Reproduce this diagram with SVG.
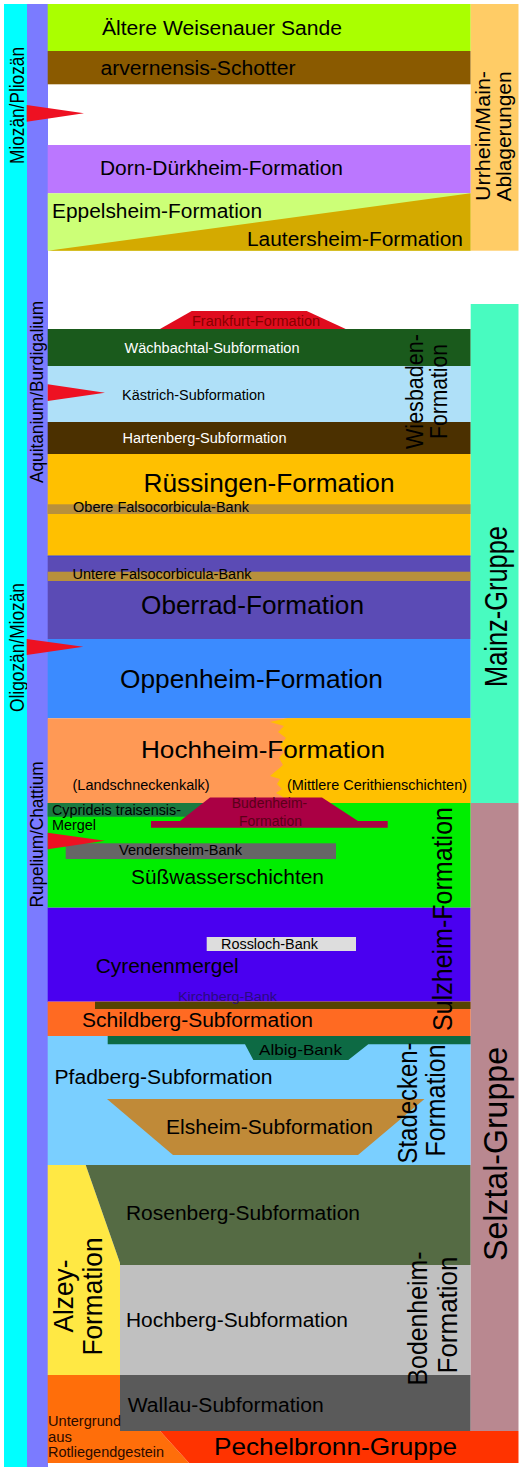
<svg xmlns="http://www.w3.org/2000/svg" width="525" height="1467" viewBox="0 0 525 1467">
<style>
text{font-family:"Liberation Sans",Arial,sans-serif;fill:#000}
.s{font-size:14px}
.m{font-size:19.5px}
.b{font-size:25px}
.w{fill:#fff}
.v{text-anchor:middle}
</style>
<rect width="525" height="1467" fill="#fff"/>
<g id="epoch-bar">
<rect x="4" y="4" width="23" height="1463" fill="#00ffff"/>
<text class="v" font-size="19.5" transform="translate(24,105.5) rotate(-90)" textLength="117" lengthAdjust="spacingAndGlyphs">Miozän/Pliozän</text>
<text class="v" font-size="19.5" transform="translate(24,647.5) rotate(-90)" textLength="129" lengthAdjust="spacingAndGlyphs">Oligozän/Miozän</text>
</g>
<g id="stage-bar">
<rect x="27" y="4" width="21" height="1463" fill="#7b7bff"/>
<text class="v" font-size="18.5" transform="translate(43,392) rotate(-90)" textLength="182" lengthAdjust="spacingAndGlyphs">Aquitanium/Burdigalium</text>
<text class="v" font-size="18.5" transform="translate(43,834.5) rotate(-90)" textLength="146" lengthAdjust="spacingAndGlyphs">Rupelium/Chattium</text>
</g>
<g id="weisenauer"><rect x="47.7" y="4" width="423" height="47" fill="#aaff00"/><text class="m" x="102" y="35" textLength="240" lengthAdjust="spacingAndGlyphs">Ältere Weisenauer Sande</text></g>
<g id="arvernensis"><rect x="47.7" y="51" width="423" height="33.3" fill="#8a5a00"/><text class="m" x="100.5" y="75" textLength="195" lengthAdjust="spacingAndGlyphs">arvernensis-Schotter</text></g>
<g id="dorn"><rect x="47.7" y="145" width="423" height="48.3" fill="#bb77ff"/><text class="m" x="100" y="175" textLength="243" lengthAdjust="spacingAndGlyphs">Dorn-Dürkheim-Formation</text></g>
<g id="eppelsheim"><rect x="47.7" y="193.3" width="423" height="57.4" fill="#ccff77"/><text class="m" x="52" y="218" textLength="210" lengthAdjust="spacingAndGlyphs">Eppelsheim-Formation</text></g>
<g id="lautersheim"><polygon points="47.7,250.7 470.7,193.3 470.7,250.7" fill="#d4aa00"/><text class="m" x="247" y="246" textLength="216" lengthAdjust="spacingAndGlyphs">Lautersheim-Formation</text></g>
<g id="urrhein"><rect x="470.7" y="4" width="47.8" height="246.7" fill="#ffcc66"/>
<text class="v" font-size="20" transform="translate(489.5,136) rotate(-90)" textLength="130" lengthAdjust="spacingAndGlyphs">Urrhein/Main-</text>
<text class="v" font-size="20" transform="translate(510.5,136.5) rotate(-90)" textLength="130" lengthAdjust="spacingAndGlyphs">Ablagerungen</text></g>
<g id="frankfurt"><polygon points="160,329 191.7,311 306.7,311 345.7,329" fill="#e00c1e"/><text class="s" x="192" y="326" style="fill:#880000" textLength="128" lengthAdjust="spacingAndGlyphs">Frankfurt-Formation</text></g>
<g id="waechbachtal"><rect x="47.7" y="329" width="423" height="37" fill="#1a5a1c"/><text class="s w" x="124.5" y="353" textLength="175" lengthAdjust="spacingAndGlyphs">Wächbachtal-Subformation</text></g>
<g id="kaestrich"><rect x="47.7" y="366" width="423" height="56" fill="#afe0f8"/><text class="s" x="122" y="400" textLength="143" lengthAdjust="spacingAndGlyphs">Kästrich-Subformation</text></g>
<g id="hartenberg"><rect x="47.7" y="422" width="423" height="32" fill="#4b3000"/><text class="s w" x="122.5" y="443" textLength="164" lengthAdjust="spacingAndGlyphs">Hartenberg-Subformation</text></g>
<g id="wiesbaden"><text class="v" font-size="23" transform="translate(423,391.5) rotate(-90)" textLength="115" lengthAdjust="spacingAndGlyphs">Wiesbaden-</text><text class="v" font-size="23" transform="translate(447,391.5) rotate(-90)" textLength="95" lengthAdjust="spacingAndGlyphs">Formation</text></g>
<g id="ruessingen"><rect x="47.7" y="454" width="423" height="102" fill="#ffc000"/><rect x="47.7" y="504.3" width="423" height="9.7" fill="#b8903c"/>
<text x="143.5" y="492" font-size="25.5" textLength="251" lengthAdjust="spacingAndGlyphs">Rüssingen-Formation</text>
<text class="s" x="73" y="512" textLength="176" lengthAdjust="spacingAndGlyphs">Obere Falsocorbicula-Bank</text></g>
<g id="oberrad"><rect x="47.7" y="556" width="423" height="83" fill="#5b4bb5"/><line x1="47.7" y1="556" x2="470.7" y2="556" stroke="#2f45f0" stroke-width="1"/><rect x="47.7" y="571.7" width="423" height="9.3" fill="#b8903c"/>
<text class="s" x="72.5" y="579" textLength="179" lengthAdjust="spacingAndGlyphs">Untere Falsocorbicula-Bank</text>
<text x="141" y="614" font-size="25.5" textLength="223" lengthAdjust="spacingAndGlyphs">Oberrad-Formation</text></g>
<g id="oppenheim"><rect x="47.7" y="639" width="423" height="79.3" fill="#3b8bff"/><text x="120" y="688" font-size="25" textLength="263" lengthAdjust="spacingAndGlyphs">Oppenheim-Formation</text></g>
<g id="hochheim"><rect x="47.7" y="718.3" width="423" height="84.7" fill="#ff9955"/>
<polygon points="287,718.3 270,722 284,726 278,732 286,738 280,745 284,752 279,758 283,765 276,771 270,776 280,779 277,784 282,789 276,793 283,797 281,803 470.7,803 470.7,718.3" fill="#ffc000"/>
<text x="141" y="758" font-size="24.5" textLength="244" lengthAdjust="spacingAndGlyphs">Hochheim-Formation</text>
<text class="s" x="72.5" y="790" textLength="137" lengthAdjust="spacingAndGlyphs">(Landschneckenkalk)</text>
<text class="s" x="287" y="790" textLength="180" lengthAdjust="spacingAndGlyphs">(Mittlere Cerithienschichten)</text></g>
<g id="mainz-gruppe"><rect x="470.7" y="304" width="47.8" height="499" fill="#48fbc0"/><text class="v" font-size="32" transform="translate(507,606.5) rotate(-90)" textLength="161" lengthAdjust="spacingAndGlyphs">Mainz-Gruppe</text></g>
<g id="suesswasser"><rect x="47.7" y="803" width="423" height="104.7" fill="#00ee00"/>
<text class="m" x="131" y="884" textLength="193" lengthAdjust="spacingAndGlyphs">Süßwasserschichten</text></g>
<g id="cyprideis"><rect x="47.7" y="803" width="162" height="13.7" fill="#1a7a40"/>
<text class="s" x="52" y="815" textLength="129" lengthAdjust="spacingAndGlyphs">Cyprideis traisensis-</text>
<text class="s" x="52" y="830" textLength="44" lengthAdjust="spacingAndGlyphs">Mergel</text></g>
<g id="budenheim"><polygon points="210,797.5 322,797.5 358,821 387.7,821 387.7,827.7 151,827.7 151,821 180,821" fill="#aa0044"/>
<text class="s v" x="269.5" y="808.3" style="fill:#5a0018">Budenheim-</text>
<text class="s v" x="270.5" y="825.5" style="fill:#5a0018">Formation</text></g>
<g id="vendersheim"><rect x="65.7" y="843.3" width="270.3" height="15.7" fill="#666666"/><text class="s" x="119" y="855" textLength="123" lengthAdjust="spacingAndGlyphs">Vendersheim-Bank</text></g>
<g id="cyrenenmergel"><rect x="47.7" y="907.7" width="423" height="94" fill="#4a00f0"/>
<text class="m" x="95.7" y="973" textLength="143" lengthAdjust="spacingAndGlyphs">Cyrenenmergel</text></g>
<g id="rossloch"><rect x="206.7" y="937" width="149.3" height="14" fill="#dddddd"/><text class="s" x="221" y="949" textLength="97" lengthAdjust="spacingAndGlyphs">Rossloch-Bank</text></g>
<g id="schildberg"><rect x="47.7" y="1001.7" width="423" height="34.3" fill="#ff6a22"/><rect x="95" y="1001.7" width="375.7" height="7.3" fill="#554400"/>
<text class="m" x="82" y="1027" font-size="20" textLength="231" lengthAdjust="spacingAndGlyphs">Schildberg-Subformation</text></g>
<g id="kirchberg"><text x="178" y="1001" font-size="13.5" style="fill:#2a0a80" textLength="99" lengthAdjust="spacingAndGlyphs">Kirchberg-Bank</text></g>
<g id="sulzheim"><text class="v" font-size="27" transform="translate(452,919) rotate(-90)" textLength="224" lengthAdjust="spacingAndGlyphs">Sulzheim-Formation</text></g>
<g id="pfadberg"><rect x="47.7" y="1036" width="423" height="129" fill="#7acfff"/>
<text class="m" x="54.5" y="1084" font-size="20" textLength="218" lengthAdjust="spacingAndGlyphs">Pfadberg-Subformation</text></g>
<g id="albig"><polygon points="107.7,1036 470.7,1036 470.7,1044.3 368.3,1044.3 348.3,1060 253.3,1060 245,1044.3 107.7,1044.3" fill="#0d6a44"/><text x="259" y="1055" font-size="15" textLength="83" lengthAdjust="spacingAndGlyphs">Albig-Bank</text></g>
<g id="elsheim"><polygon points="107,1099 424.5,1099 358,1155 173,1155" fill="#c08a38"/><text class="m" x="166" y="1134" font-size="20" textLength="207" lengthAdjust="spacingAndGlyphs">Elsheim-Subformation</text></g>
<g id="stadecken"><text class="v" font-size="27" transform="translate(416.5,1103) rotate(-90)" textLength="121" lengthAdjust="spacingAndGlyphs">Stadecken-</text><text class="v" font-size="27" transform="translate(445,1100.5) rotate(-90)" textLength="112" lengthAdjust="spacingAndGlyphs">Formation</text></g>
<g id="alzey"><polygon points="47.7,1165 85.7,1165 120,1263 120,1375 47.7,1375" fill="#ffe844"/>
<text class="v" font-size="28" transform="translate(73,1296) rotate(-90)" textLength="73" lengthAdjust="spacingAndGlyphs">Alzey-</text>
<text class="v" font-size="28" transform="translate(101.5,1296.5) rotate(-90)" textLength="118" lengthAdjust="spacingAndGlyphs">Formation</text></g>
<g id="rosenberg"><polygon points="85.7,1165 470.7,1165 470.7,1265 120,1265 120,1263" fill="#556b44"/><text class="m" x="126" y="1220" textLength="234" lengthAdjust="spacingAndGlyphs">Rosenberg-Subformation</text></g>
<g id="hochberg"><rect x="120" y="1265" width="350.7" height="110" fill="#c0c0c0"/><text class="m" x="126" y="1327" textLength="222" lengthAdjust="spacingAndGlyphs">Hochberg-Subformation</text></g>
<g id="wallau"><rect x="120" y="1375" width="350.7" height="56" fill="#5a5a5a"/><text class="m" x="127.7" y="1411.7" textLength="196" lengthAdjust="spacingAndGlyphs">Wallau-Subformation</text></g>
<g id="bodenheim"><text class="v" font-size="27" transform="translate(426.5,1318.5) rotate(-90)" textLength="134" lengthAdjust="spacingAndGlyphs">Bodenheim-</text><text class="v" font-size="27" transform="translate(456.5,1315) rotate(-90)" textLength="117" lengthAdjust="spacingAndGlyphs">Formation</text></g>
<g id="selztal-gruppe"><rect x="470.7" y="803" width="47.8" height="628" fill="#b98890"/><text class="v" font-size="33" transform="translate(507,1154) rotate(-90)" textLength="214" lengthAdjust="spacingAndGlyphs">Selztal-Gruppe</text></g>
<g id="untergrund"><polygon points="47.7,1375 120,1375 120,1431 160,1431 189,1463 47.7,1463" fill="#ff6e0a"/>
<text class="s" x="48" y="1425.5" style="fill:#2a0a00" textLength="73" lengthAdjust="spacingAndGlyphs">Untergrund</text>
<text class="s" x="48" y="1442" style="fill:#2a0a00" textLength="24" lengthAdjust="spacingAndGlyphs">aus</text>
<text class="s" x="48" y="1457" style="fill:#2a0a00" textLength="116" lengthAdjust="spacingAndGlyphs">Rotliegendgestein</text></g>
<g id="pechelbronn"><polygon points="160,1431 518.5,1431 518.5,1463 189,1463" fill="#ff3300"/><text x="214" y="1455" font-size="24" textLength="243" lengthAdjust="spacingAndGlyphs">Pechelbronn-Gruppe</text></g>
<g id="markers" fill="#ee1122">
<polygon points="26.7,105 84,113.3 26.7,121.7"/>
<polygon points="47.7,384.3 105,392.7 47.7,401"/>
<polygon points="26.7,639 83.3,646.7 26.7,655"/>
<polygon points="47.7,832.7 105,840.7 47.7,849.3"/>
</g>
<g id="connectors"/>
</svg>
